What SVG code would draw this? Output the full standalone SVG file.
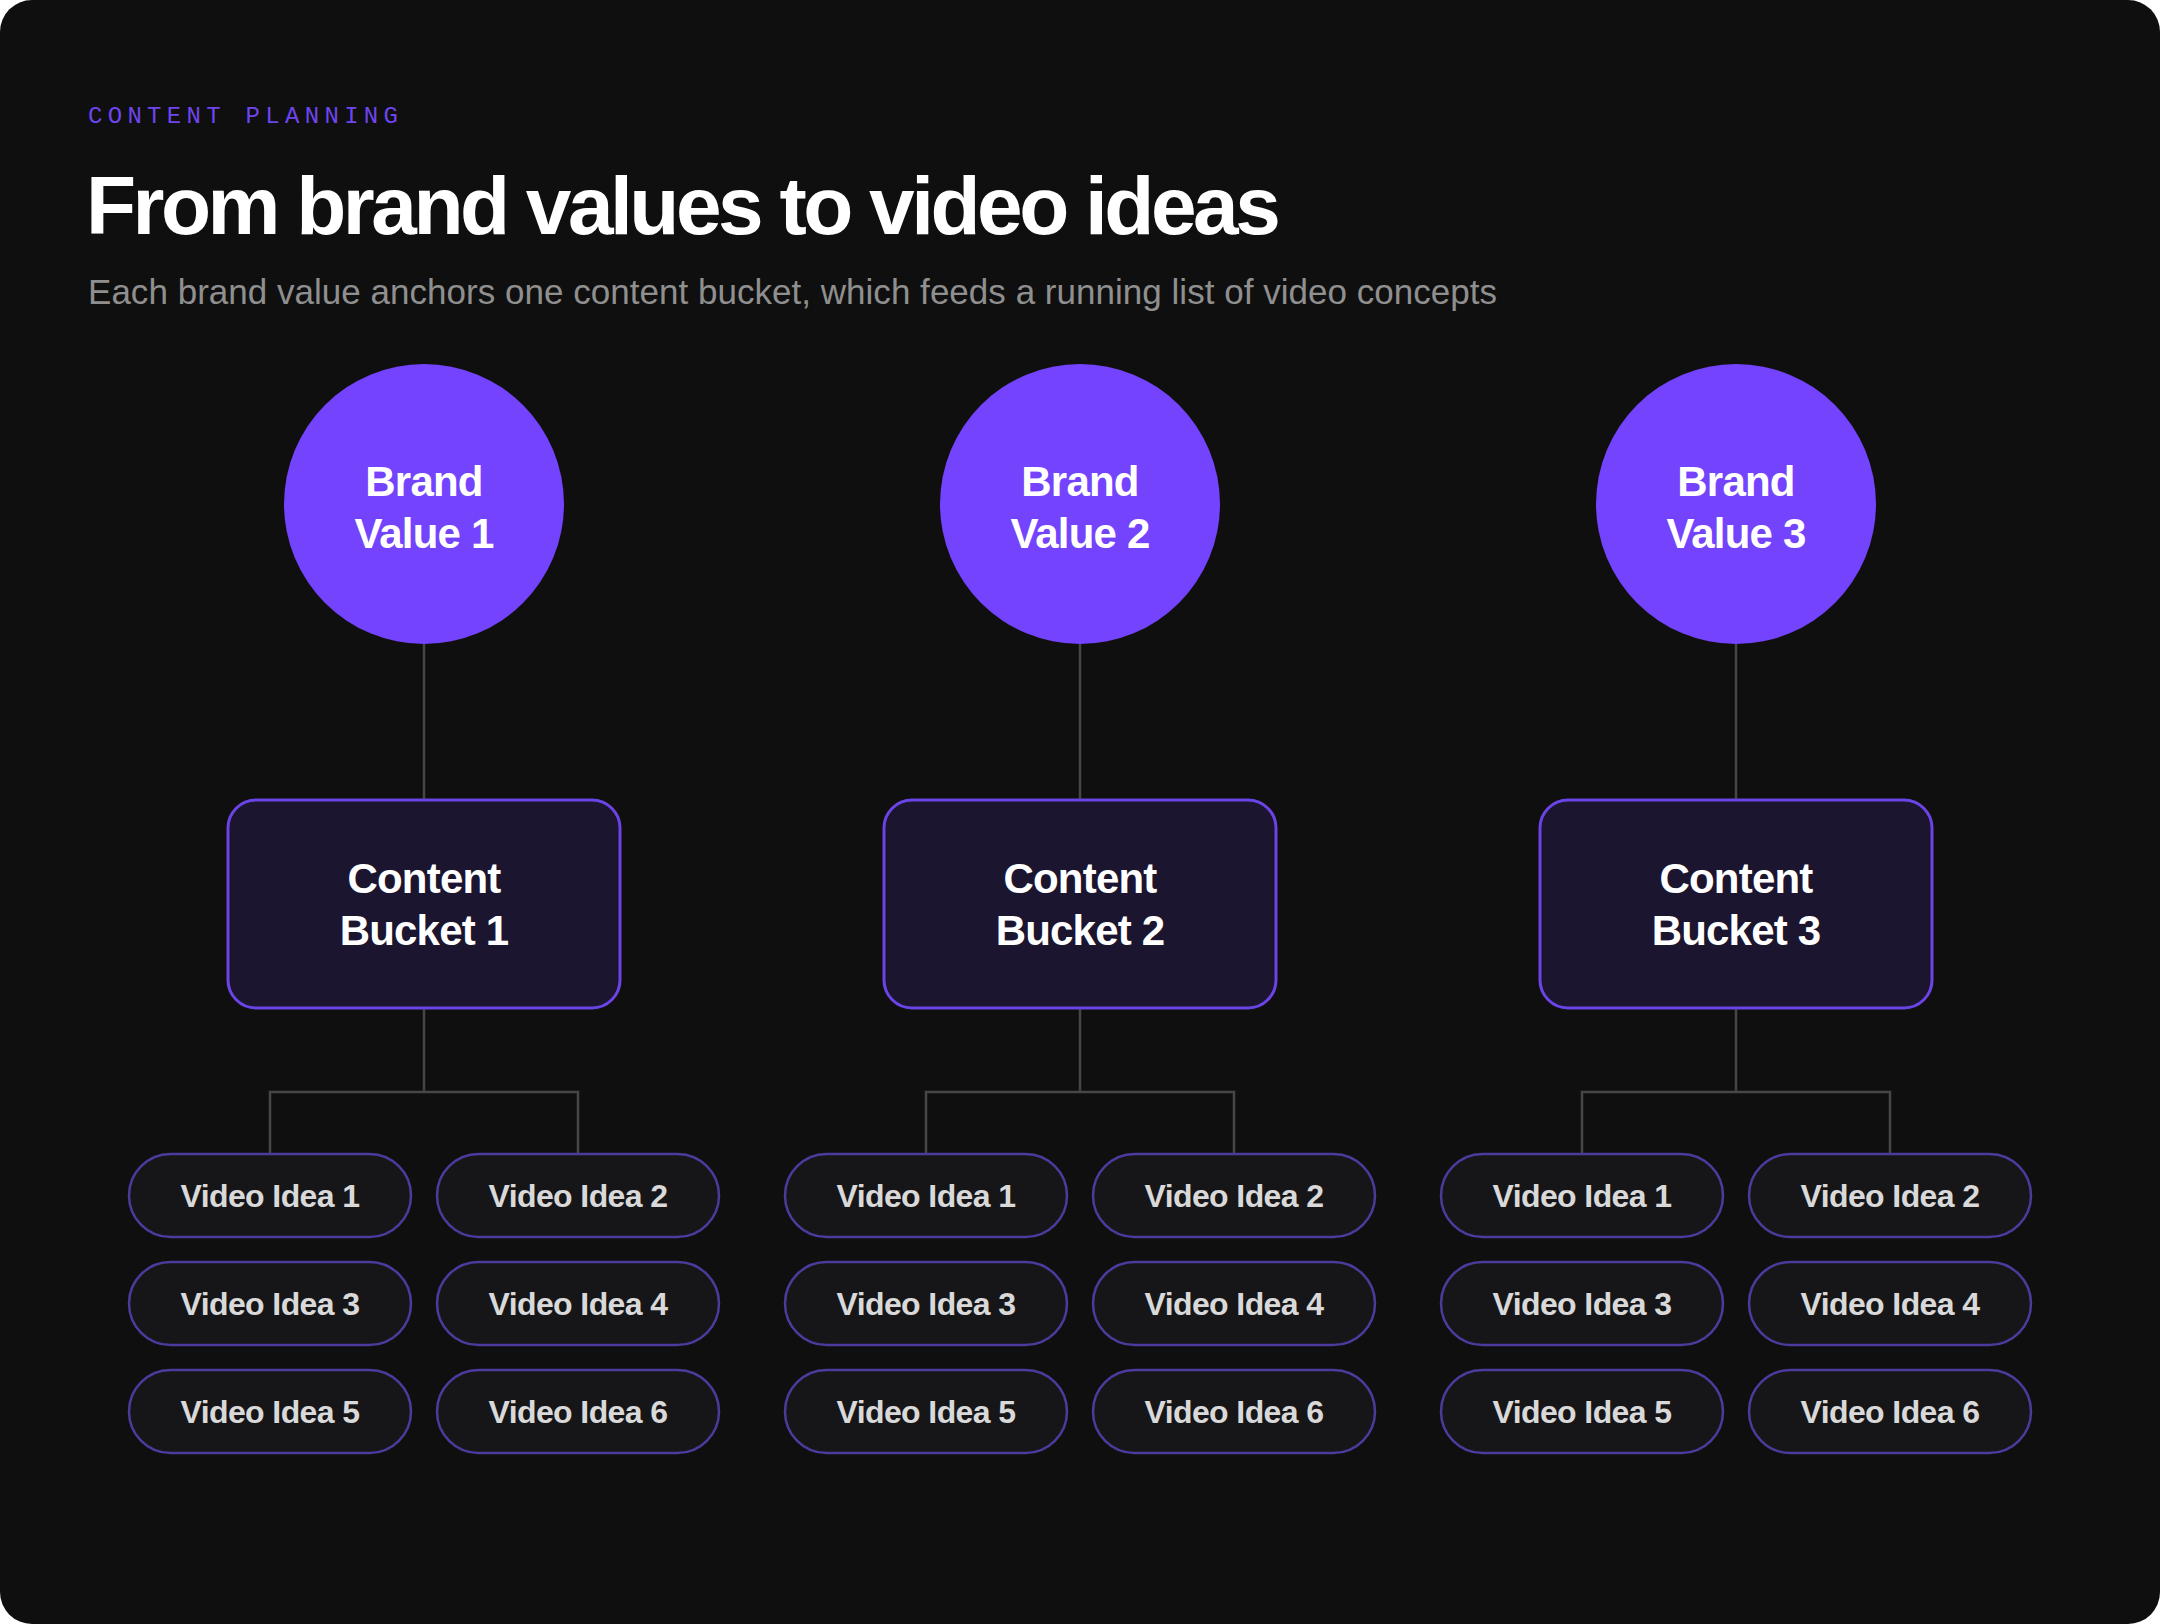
<svg xmlns="http://www.w3.org/2000/svg" width="2160" height="1624" viewBox="0 0 2160 1624">
  <style>
    .eyebrow { font-family: "Liberation Mono", "DejaVu Sans Mono", monospace; font-size: 24px; letter-spacing: 5.3px; fill: #6e45ee; }
    .title { font-family: "Liberation Sans", Arial, sans-serif; font-weight: 700; font-size: 82px; letter-spacing: -3.5px; fill: #ffffff; }
    .sub { font-family: "Liberation Sans", Arial, sans-serif; font-size: 35px; fill: #8f8f8f; }
    .circle { fill: #7443fd; }
    .ctext { font-family: "Liberation Sans", Arial, sans-serif; font-weight: 700; font-size: 42px; fill: #ffffff; text-anchor: middle; letter-spacing: -0.8px; }
    .bucket { fill: #1b152f; stroke: #6b44e6; stroke-width: 3; }
    .pill { fill: #161618; stroke: #4d3a9c; stroke-width: 2.5; }
    .ptext { font-family: "Liberation Sans", Arial, sans-serif; font-weight: 700; font-size: 32px; fill: #d9d9d9; text-anchor: middle; letter-spacing: -0.6px; }
    .conn { fill: none; stroke: #464646; stroke-width: 2.5; }
  </style>
  <rect x="0" y="0" width="2160" height="1624" fill="#ffffff"/>
  <rect x="0" y="0" width="2160" height="1624" rx="32" ry="32" fill="#0f0f0f"/>

  <g id="header">
    <text class="eyebrow" x="88" y="123">CONTENT PLANNING</text>
    <text class="title" x="86" y="234">From brand values to video ideas</text>
    <text class="sub" x="88" y="304" textLength="1409" lengthAdjust="spacing">Each brand value anchors one content bucket, which feeds a running list of video concepts</text>
  </g>

  <g id="connectors">
    <line class="conn" x1="424" y1="644" x2="424" y2="799"/>
    <line class="conn" x1="1080" y1="644" x2="1080" y2="799"/>
    <line class="conn" x1="1736" y1="644" x2="1736" y2="799"/>
    <path class="conn" d="M424 1008 V1092 M270 1154 V1092 H578 V1154"/>
    <path class="conn" d="M1080 1008 V1092 M926 1154 V1092 H1234 V1154"/>
    <path class="conn" d="M1736 1008 V1092 M1582 1154 V1092 H1890 V1154"/>
  </g>

  <g id="brand-value-1"><circle class="circle" cx="424" cy="504" r="140"/><text class="ctext" x="424" y="496">Brand</text><text class="ctext" x="424" y="548">Value 1</text></g>
  <g id="brand-value-2"><circle class="circle" cx="1080" cy="504" r="140"/><text class="ctext" x="1080" y="496">Brand</text><text class="ctext" x="1080" y="548">Value 2</text></g>
  <g id="brand-value-3"><circle class="circle" cx="1736" cy="504" r="140"/><text class="ctext" x="1736" y="496">Brand</text><text class="ctext" x="1736" y="548">Value 3</text></g>

  <g id="content-bucket-1"><rect class="bucket" x="228" y="800" width="392" height="208" rx="28"/><text class="ctext" x="424" y="893">Content</text><text class="ctext" x="424" y="945">Bucket 1</text></g>
  <g id="content-bucket-2"><rect class="bucket" x="884" y="800" width="392" height="208" rx="28"/><text class="ctext" x="1080" y="893">Content</text><text class="ctext" x="1080" y="945">Bucket 2</text></g>
  <g id="content-bucket-3"><rect class="bucket" x="1540" y="800" width="392" height="208" rx="28"/><text class="ctext" x="1736" y="893">Content</text><text class="ctext" x="1736" y="945">Bucket 3</text></g>

  <g id="b1-idea-1"><rect class="pill" x="129" y="1154" width="282" height="83" rx="41.5"/><text class="ptext" x="270" y="1207">Video Idea 1</text></g>
  <g id="b1-idea-2"><rect class="pill" x="437" y="1154" width="282" height="83" rx="41.5"/><text class="ptext" x="578" y="1207">Video Idea 2</text></g>
  <g id="b1-idea-3"><rect class="pill" x="129" y="1262" width="282" height="83" rx="41.5"/><text class="ptext" x="270" y="1315">Video Idea 3</text></g>
  <g id="b1-idea-4"><rect class="pill" x="437" y="1262" width="282" height="83" rx="41.5"/><text class="ptext" x="578" y="1315">Video Idea 4</text></g>
  <g id="b1-idea-5"><rect class="pill" x="129" y="1370" width="282" height="83" rx="41.5"/><text class="ptext" x="270" y="1423">Video Idea 5</text></g>
  <g id="b1-idea-6"><rect class="pill" x="437" y="1370" width="282" height="83" rx="41.5"/><text class="ptext" x="578" y="1423">Video Idea 6</text></g>

  <g id="b2-idea-1"><rect class="pill" x="785" y="1154" width="282" height="83" rx="41.5"/><text class="ptext" x="926" y="1207">Video Idea 1</text></g>
  <g id="b2-idea-2"><rect class="pill" x="1093" y="1154" width="282" height="83" rx="41.5"/><text class="ptext" x="1234" y="1207">Video Idea 2</text></g>
  <g id="b2-idea-3"><rect class="pill" x="785" y="1262" width="282" height="83" rx="41.5"/><text class="ptext" x="926" y="1315">Video Idea 3</text></g>
  <g id="b2-idea-4"><rect class="pill" x="1093" y="1262" width="282" height="83" rx="41.5"/><text class="ptext" x="1234" y="1315">Video Idea 4</text></g>
  <g id="b2-idea-5"><rect class="pill" x="785" y="1370" width="282" height="83" rx="41.5"/><text class="ptext" x="926" y="1423">Video Idea 5</text></g>
  <g id="b2-idea-6"><rect class="pill" x="1093" y="1370" width="282" height="83" rx="41.5"/><text class="ptext" x="1234" y="1423">Video Idea 6</text></g>

  <g id="b3-idea-1"><rect class="pill" x="1441" y="1154" width="282" height="83" rx="41.5"/><text class="ptext" x="1582" y="1207">Video Idea 1</text></g>
  <g id="b3-idea-2"><rect class="pill" x="1749" y="1154" width="282" height="83" rx="41.5"/><text class="ptext" x="1890" y="1207">Video Idea 2</text></g>
  <g id="b3-idea-3"><rect class="pill" x="1441" y="1262" width="282" height="83" rx="41.5"/><text class="ptext" x="1582" y="1315">Video Idea 3</text></g>
  <g id="b3-idea-4"><rect class="pill" x="1749" y="1262" width="282" height="83" rx="41.5"/><text class="ptext" x="1890" y="1315">Video Idea 4</text></g>
  <g id="b3-idea-5"><rect class="pill" x="1441" y="1370" width="282" height="83" rx="41.5"/><text class="ptext" x="1582" y="1423">Video Idea 5</text></g>
  <g id="b3-idea-6"><rect class="pill" x="1749" y="1370" width="282" height="83" rx="41.5"/><text class="ptext" x="1890" y="1423">Video Idea 6</text></g>
</svg>
